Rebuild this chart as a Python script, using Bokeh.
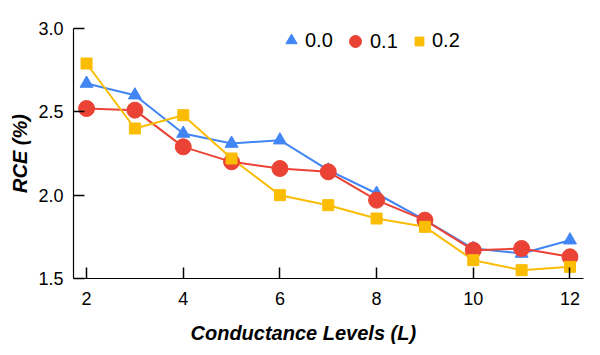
from bokeh.plotting import figure
from bokeh.models import Legend, LegendItem, Title, FixedTicker, Range1d, NumeralTickFormatter
from bokeh.embed import file_html
from bokeh.resources import INLINE

levels = [2, 3, 4, 5, 6, 7, 8, 9, 10, 11, 12]
rce_00 = [2.67, 2.60, 2.37, 2.31, 2.33, 2.15, 2.01, 1.85, 1.68, 1.65, 1.73]
rce_01 = [2.52, 2.51, 2.29, 2.20, 2.16, 2.14, 1.97, 1.85, 1.67, 1.68, 1.63]
rce_02 = [2.79, 2.40, 2.48, 2.22, 2.00, 1.94, 1.86, 1.81, 1.61, 1.55, 1.57]
series_names = ["0.0", "0.1", "0.2"]
x_ticks = [2, 4, 6, 8, 10, 12]
y_ticks = [1.5, 2.0, 2.5, 3.0]

BLUE = "#4285F4"
RED = "#EA4335"
YELLOW = "#FBBC04"
FONT = "Liberation Sans"

p = figure(width=600, height=355, output_backend="svg", toolbar_location=None,
           x_range=Range1d(1.73, 12.28), y_range=Range1d(1.5, 3.0),
           min_border_left=73, min_border_right=17, min_border_top=28, min_border_bottom=77)
p.outline_line_color = None
p.xgrid.visible = False
p.ygrid.visible = False

for ax in (p.xaxis[0], p.yaxis[0]):
    ax.axis_line_color = "#000000"
    ax.axis_line_width = 1.2
    ax.major_tick_line_color = "#000000"
    ax.major_tick_line_width = 1.5
    ax.major_tick_in = 11
    ax.major_tick_out = 0
    ax.minor_tick_line_color = None
    ax.major_label_text_font = FONT
    ax.major_label_text_font_size = "18px"
    ax.major_label_text_color = "#000000"

p.xaxis.ticker = FixedTicker(ticks=x_ticks)
p.yaxis.ticker = FixedTicker(ticks=y_ticks)
p.yaxis.formatter = NumeralTickFormatter(format="0.0")
p.xaxis.major_label_standoff = 13
p.yaxis.major_label_standoff = 10

p.yaxis.axis_label = "RCE (%)"
p.yaxis.axis_label_text_font = FONT
p.yaxis.axis_label_text_font_size = "20px"
p.yaxis.axis_label_text_font_style = "bold italic"
p.yaxis.axis_label_text_color = "#000000"
p.yaxis.axis_label_standoff = 4

xtitle = Title(text="Conductance Levels (L)", align="left", offset=117,
               text_font=FONT, text_font_size="20px", text_font_style="bold italic",
               text_color="#000000", standoff=24)
p.add_layout(xtitle, "below")

p.line(levels, rce_00, line_color=BLUE, line_width=2)
p.line(levels, rce_01, line_color=RED, line_width=2)
p.line(levels, rce_02, line_color=YELLOW, line_width=2)
r0 = p.scatter(levels, rce_00, marker="triangle", size=13, fill_color=BLUE, line_color=BLUE)
r1 = p.scatter(levels, rce_01, marker="circle", size=16, fill_color=RED, line_color=RED)
r2 = p.scatter(levels, rce_02, marker="square", size=11, fill_color=YELLOW, line_color=YELLOW)

specs = [(r0, series_names[0], 28, 0, (204, 224)),
         (r1, series_names[1], 30, 0, (267, 222)),
         (r2, series_names[2], 22, 2, (335, 226))]
for rend, name, g, stand, loc in specs:
    lg = Legend(items=[LegendItem(label=name, renderers=[rend])], location=loc,
                glyph_width=g, glyph_height=g, label_standoff=stand,
                padding=0, margin=0, spacing=0,
                border_line_color=None, background_fill_alpha=0,
                label_text_font=FONT, label_text_font_size="20px",
                label_text_color="#000000", label_height=g)
    p.add_layout(lg, "center")

open("out.html", "w").write(file_html(p, INLINE))
